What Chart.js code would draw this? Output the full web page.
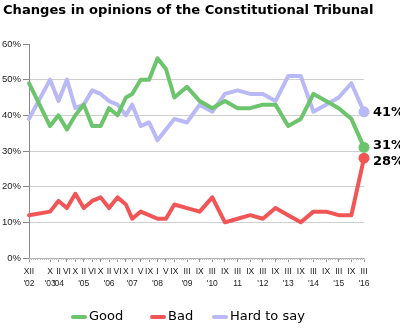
<!DOCTYPE html>
<html>
<head>
<meta charset="utf-8">
<script src="https://cdn.jsdelivr.net/npm/chart.js@4.4.1/dist/chart.umd.min.js"></script>
<style>
  html, body { margin: 0; padding: 0; background: #fff; }
  #wrap { width: 400px; height: 335px; }
</style>
</head>
<body>
<div id="wrap"><canvas id="chart" width="400" height="335"></canvas></div>
<script>
// Survey dates, counted in months from December 2002
const surveyMonths = [0, 10, 14, 18, 22, 26, 30, 34, 38, 42, 46, 49, 53, 57, 61, 65, 69, 75, 81, 87, 93, 99, 105, 111, 117, 123, 129, 135, 141, 147, 153, 159];
// Month of each survey (roman numerals) and the year shown under the first survey of each year
const monthLabels = ['XII', 'X', 'II', 'VI', 'X', 'II', 'VI', 'X', 'II', 'VI', 'X', 'I', 'V', 'IX', 'I', 'V', 'IX', 'III', 'IX', 'III', 'IX', 'III', 'IX', 'III', 'IX', 'III', 'IX', 'III', 'IX', 'III', 'IX', 'III'];
const yearLabels = ["'02", "'03", "'04", '', '', "'05", '', '', "'06", '', '', "'07", '', '', "'08", '', '', "'09", '', "'10", '', '11', '', "'12", '', "'13", '', "'14", '', "'15", '', "'16"];

// Opinion shares, %
const goodValues = [49, 37, 40, 36, 40, 43, 37, 37, 42, 40, 45, 46, 50, 50, 56, 53, 45, 48, 44, 42, 44, 42, 42, 43, 43, 37, 39, 46, 44, 42, 39, 31];
const badValues  = [12, 13, 16, 14, 18, 14, 16, 17, 14, 17, 15, 11, 13, 12, 11, 11, 15, 14, 13, 17, 10, 11, 12, 11, 14, 12, 10, 13, 13, 12, 12, 28];
const hardValues = [39, 50, 44, 50, 42, 43, 47, 46, 44, 43, 40, 43, 37, 38, 33, 36, 39, 38, 43, 41, 46, 47, 46, 46, 44, 51, 51, 41, 43, 45, 49, 41];

const seriesNames = ['Good', 'Bad', 'Hard to say'];
const seriesColors = ['#6cc46c', '#f25555', '#b9b9f6'];
const yTickValues = [0, 10, 20, 30, 40, 50, 60];
const chartTitle = 'Changes in opinions of the Constitutional Tribunal';

const lastIndex = surveyMonths.length - 1;
const toPoints = vals => surveyMonths.map((m, i) => ({ x: m, y: vals[i] }));

// Heading in the top-left corner
const heading = {
  id: 'heading',
  afterDraw(chart) {
    const ctx = chart.ctx;
    ctx.save();
    ctx.font = 'bold 13.1px "DejaVu Sans"';
    ctx.fillStyle = '#000';
    ctx.textAlign = 'left';
    ctx.textBaseline = 'middle';
    ctx.fillText(chartTitle, 3, 11);
    ctx.restore();
  }
};

// Percent label beside the last point of every series, nudged apart when close
const endLabels = {
  id: 'endLabels',
  afterDatasetsDraw(chart) {
    const ctx = chart.ctx;
    const items = chart.data.datasets.map((ds, i) => {
      const pt = chart.getDatasetMeta(i).data[lastIndex];
      return { x: pt.x, y: pt.y, text: ds.data[lastIndex].y + '%' };
    }).sort((a, b) => a.y - b.y);
    const gap = 16;
    for (let i = 1; i < items.length; i++) {
      const d = items[i].y - items[i - 1].y;
      if (d < gap) {
        const shift = (gap - d) / 2;
        items[i - 1].y -= shift;
        items[i].y += shift;
      }
    }
    ctx.save();
    ctx.font = 'bold 13px "DejaVu Sans"';
    ctx.fillStyle = '#000';
    ctx.textAlign = 'left';
    ctx.textBaseline = 'middle';
    items.forEach(it => ctx.fillText(it.text, it.x + 9, it.y + 1));
    ctx.restore();
  }
};

// Small monthly marks along the time axis
const monthMarks = {
  id: 'monthMarks',
  afterDraw(chart) {
    const xs = chart.scales.x;
    const ctx = chart.ctx;
    const y0 = xs.top;
    ctx.save();
    ctx.strokeStyle = '#bbbbbb';
    ctx.lineWidth = 1;
    for (let m = 0; m <= 159; m++) {
      const px = Math.round(xs.getPixelForValue(m)) + 0.5;
      ctx.beginPath();
      ctx.moveTo(px, y0);
      ctx.lineTo(px, y0 + 2);
      ctx.stroke();
    }
    ctx.restore();
  }
};

// Legend row under the chart
const legendRow = {
  id: 'legendRow',
  afterDraw(chart) {
    const ctx = chart.ctx;
    const starts = [71, 150, 212];
    const y = 317;
    ctx.save();
    ctx.font = '13px "DejaVu Sans"';
    ctx.textBaseline = 'middle';
    ctx.textAlign = 'left';
    chart.data.datasets.forEach((ds, i) => {
      ctx.fillStyle = ds.borderColor;
      ctx.beginPath();
      ctx.roundRect(starts[i], y - 2, 16, 4, 2);
      ctx.fill();
      ctx.fillStyle = '#000';
      ctx.fillText(ds.label, starts[i] + 18, y);
    });
    ctx.restore();
  }
};

const makeDataset = (i, vals) => ({
  label: seriesNames[i],
  data: toPoints(vals),
  borderColor: seriesColors[i],
  backgroundColor: seriesColors[i],
  borderWidth: 4,
  tension: 0,
  borderJoinStyle: 'round',
  borderCapStyle: 'round',
  pointRadius: c => (c.dataIndex === lastIndex ? 5.5 : 0),
  pointHoverRadius: 0,
  pointBorderWidth: 0,
  pointBackgroundColor: seriesColors[i],
  clip: false
});

Chart.defaults.font.family = '"Liberation Sans", Arial, sans-serif';
Chart.defaults.color = '#333';

new Chart(document.getElementById('chart'), {
  type: 'line',
  data: {
    datasets: [
      makeDataset(0, goodValues),
      makeDataset(1, badValues),
      makeDataset(2, hardValues)
    ]
  },
  options: {
    responsive: false,
    animation: false,
    devicePixelRatio: 1,
    layout: { padding: { left: 0, right: 36, top: 44, bottom: 0 } },
    plugins: {
      legend: { display: false },
      tooltip: { enabled: false },
      title: { display: false }
    },
    scales: {
      x: {
        type: 'linear',
        min: 0,
        max: 159,
        afterBuildTicks: scale => { scale.ticks = surveyMonths.map(v => ({ value: v })); },
        afterFit: scale => { scale.height = 77; },
        border: { display: true, color: '#aaaaaa', width: 1 },
        grid: { drawOnChartArea: false, drawTicks: true, tickLength: 4, tickColor: '#999999' },
        ticks: {
          autoSkip: false,
          maxRotation: 0,
          minRotation: 0,
          padding: 3,
          color: '#222',
          font: { size: 8.5, lineHeight: 1.5 },
          callback: value => {
            const i = surveyMonths.indexOf(value);
            return i < 0 ? '' : [monthLabels[i], yearLabels[i]];
          }
        }
      },
      y: {
        min: 0,
        max: 60,
        afterBuildTicks: scale => { scale.ticks = yTickValues.map(v => ({ value: v })); },
        afterFit: scale => { scale.width = 29; },
        border: { display: true, color: '#888888', width: 1 },
        grid: {
          drawTicks: true,
          tickLength: 6,
          tickColor: '#888888',
          color: c => (c.tick && (c.tick.value === 0 || c.tick.value === 60) ? 'rgba(0,0,0,0)' : '#cfcfcf'),
          lineWidth: 1
        },
        ticks: {
          padding: 2,
          color: '#222',
          font: { size: 9.5 },
          callback: v => v + '%'
        }
      }
    }
  },
  plugins: [monthMarks, endLabels, legendRow, heading]
});
</script>
</body>
</html>
